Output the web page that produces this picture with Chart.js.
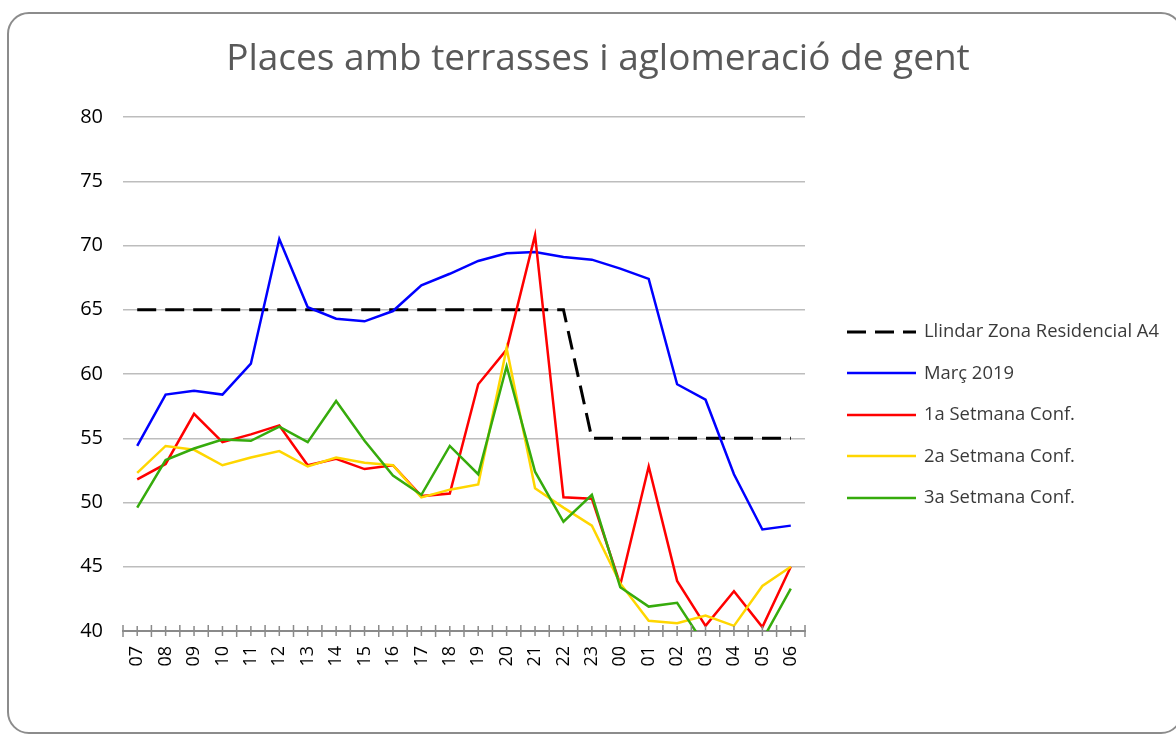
<!DOCTYPE html>
<html>
<head>
<meta charset="utf-8">
<script src="https://cdn.jsdelivr.net/npm/chart.js@4.4.1/dist/chart.umd.min.js"></script>
<style>
	html, body { margin: 0; padding: 0; background: #fff; }
	#wrap { position: relative; width: 1176px; height: 735px; overflow: hidden; }
	#frame { position: absolute; left: 7px; top: 12px; width: 1172px; height: 718px; border: 2px solid #8c8c8c; border-radius: 22px; pointer-events: none; }
	#title { position: absolute; left: 0; width: 1196px; top: 31px; text-align: center; font-family: 'Open Sans', sans-serif; font-size: 37px; line-height: 50px; color: #595959; white-space: nowrap; }
	#legend { position: absolute; left: 847px; top: 317px; font-family: 'Open Sans', sans-serif; font-size: 18.4px; color: #3a3a3a; }
	#legend .item { height: 41.5px; display: flex; align-items: flex-start; white-space: nowrap; }
	#legend span { line-height: 25px; }
	#legend svg { margin-right: 8px; margin-top: 6.5px; }
	canvas { position: absolute; left: 0; top: 0; }
</style>
</head>
<body>
<div id="wrap">
	<canvas id="chart" width="1176" height="735"></canvas>
	<div id="frame"></div>
	<div id="title">Places amb terrasses i aglomeració de gent</div>
	<div id="legend"></div>
</div>
<script>
// hours of the day, 07h -> 06h
var hours = ['07', '08', '09', '10', '11', '12', '13', '14', '15', '16', '17', '18',
	'19', '20', '21', '22', '23', '00', '01', '02', '03', '04', '05', '06'];

var llindar = [65, 65, 65, 65, 65, 65, 65, 65, 65, 65, 65, 65, 65, 65, 65, 65,
	55, 55, 55, 55, 55, 55, 55, 55];
var marc2019 = [54.4, 58.4, 58.7, 58.4, 60.8, 70.5, 65.2, 64.3, 64.1, 64.9, 66.9, 67.8,
	68.8, 69.4, 69.5, 69.1, 68.9, 68.2, 67.4, 59.2, 58.0, 52.2, 47.9, 48.2];
var setmana1 = [51.8, 53.0, 56.9, 54.7, 55.3, 56.0, 52.9, 53.4, 52.6, 52.9, 50.5, 50.7,
	59.2, 61.9, 70.8, 50.4, 50.3, 43.6, 52.8, 43.9, 40.4, 43.1, 40.3, 45.0];
var setmana2 = [52.3, 54.4, 54.1, 52.9, 53.5, 54.0, 52.8, 53.5, 53.1, 52.9, 50.4, 51.0,
	51.4, 62.0, 51.1, 49.6, 48.2, 43.7, 40.8, 40.6, 41.2, 40.4, 43.5, 45.0];
var setmana3 = [49.6, 53.3, 54.2, 54.9, 54.8, 55.9, 54.7, 57.9, 54.8, 52.1, 50.6, 54.4,
	52.2, 60.6, 52.4, 48.5, 50.6, 43.4, 41.9, 42.2, 38.8, 38.5, 39.3, 43.3];

var seriesNames = ['Llindar Zona Residencial A4', 'Març 2019', '1a Setmana Conf.', '2a Setmana Conf.', '3a Setmana Conf.'];
var seriesData = [llindar, marc2019, setmana1, setmana2, setmana3];
var seriesColors = ['#000000', '#0000ff', '#ff0000', '#ffd600', '#36ab0c'];

var datasets = [];
for (var i = 0; i < seriesNames.length; i++) {
	datasets.push({
		label: seriesNames[i],
		data: seriesData[i],
		borderColor: seriesColors[i],
		backgroundColor: seriesColors[i],
		borderWidth: i == 0 ? 3 : 2.5,
		borderDash: i == 0 ? [19, 9] : [],
		pointRadius: 0,
		tension: 0,
		fill: false,
		clip: 0,
		order: seriesNames.length - i
	});
}

// small tick marks on the category axis, at each hour and in between
var axisTicks = {
	id: 'axisTicks',
	afterDraw: function(chart) {
		var x = chart.scales.x;
		var ctx = chart.ctx;
		var y0 = chart.chartArea.bottom;
		var half = (x.getPixelForValue(1) - x.getPixelForValue(0)) / 2;
		ctx.save();
		ctx.strokeStyle = '#8a8a8a';
		ctx.lineWidth = 1.5;
		ctx.beginPath();
		for (var i = 0; i < hours.length; i++) {
			var px = x.getPixelForValue(i);
			ctx.moveTo(px - half, y0 - 6);
			ctx.lineTo(px - half, y0 + 6);
			ctx.moveTo(px, y0 - 5);
			ctx.lineTo(px, y0 + 5);
			if (i == hours.length - 1) {
				ctx.moveTo(px + half, y0 - 6);
				ctx.lineTo(px + half, y0 + 6);
			}
		}
		ctx.stroke();
		ctx.restore();
	}
};

var chart = new Chart(document.getElementById('chart'), {
	type: 'line',
	data: {
		labels: hours,
		datasets: datasets
	},
	options: {
		responsive: false,
		animation: false,
		layout: {
			padding: { left: 0, right: 371, top: 117, bottom: 0 }
		},
		plugins: {
			legend: { display: false },
			title: { display: false },
			tooltip: { enabled: false }
		},
		scales: {
			x: {
				offset: true,
				grid: { display: false, drawTicks: false },
				border: { display: true, color: '#8a8a8a', width: 2 },
				ticks: {
					autoSkip: false,
					minRotation: 90,
					maxRotation: 90,
					padding: 15,
					color: '#000',
					font: { family: 'Open Sans', size: 18 }
				},
				afterFit: function(scale) { scale.height = 104; }
			},
			y: {
				min: 40,
				max: 80,
				ticks: {
					stepSize: 5,
					padding: 20,
					color: '#000',
					font: { family: 'Open Sans', size: 20 }
				},
				grid: { color: '#bdbdbd', lineWidth: 1.5, drawTicks: false },
				border: { display: false },
				afterFit: function(scale) { scale.width = 123; }
			}
		}
	},
	plugins: [axisTicks]
});

// legend built from the same series
var legend = document.getElementById('legend');
for (var i = 0; i < seriesNames.length; i++) {
	var dash = i == 0 ? ' stroke-dasharray="19 9"' : '';
	var w = i == 0 ? 3 : 2.5;
	legend.innerHTML += '<div class="item"><svg width="69" height="16"><line x1="0" y1="8" x2="69" y2="8" stroke="' +
		seriesColors[i] + '" stroke-width="' + w + '"' + dash + '/></svg><span>' + seriesNames[i] + '</span></div>';
}
</script>
</body>
</html>
